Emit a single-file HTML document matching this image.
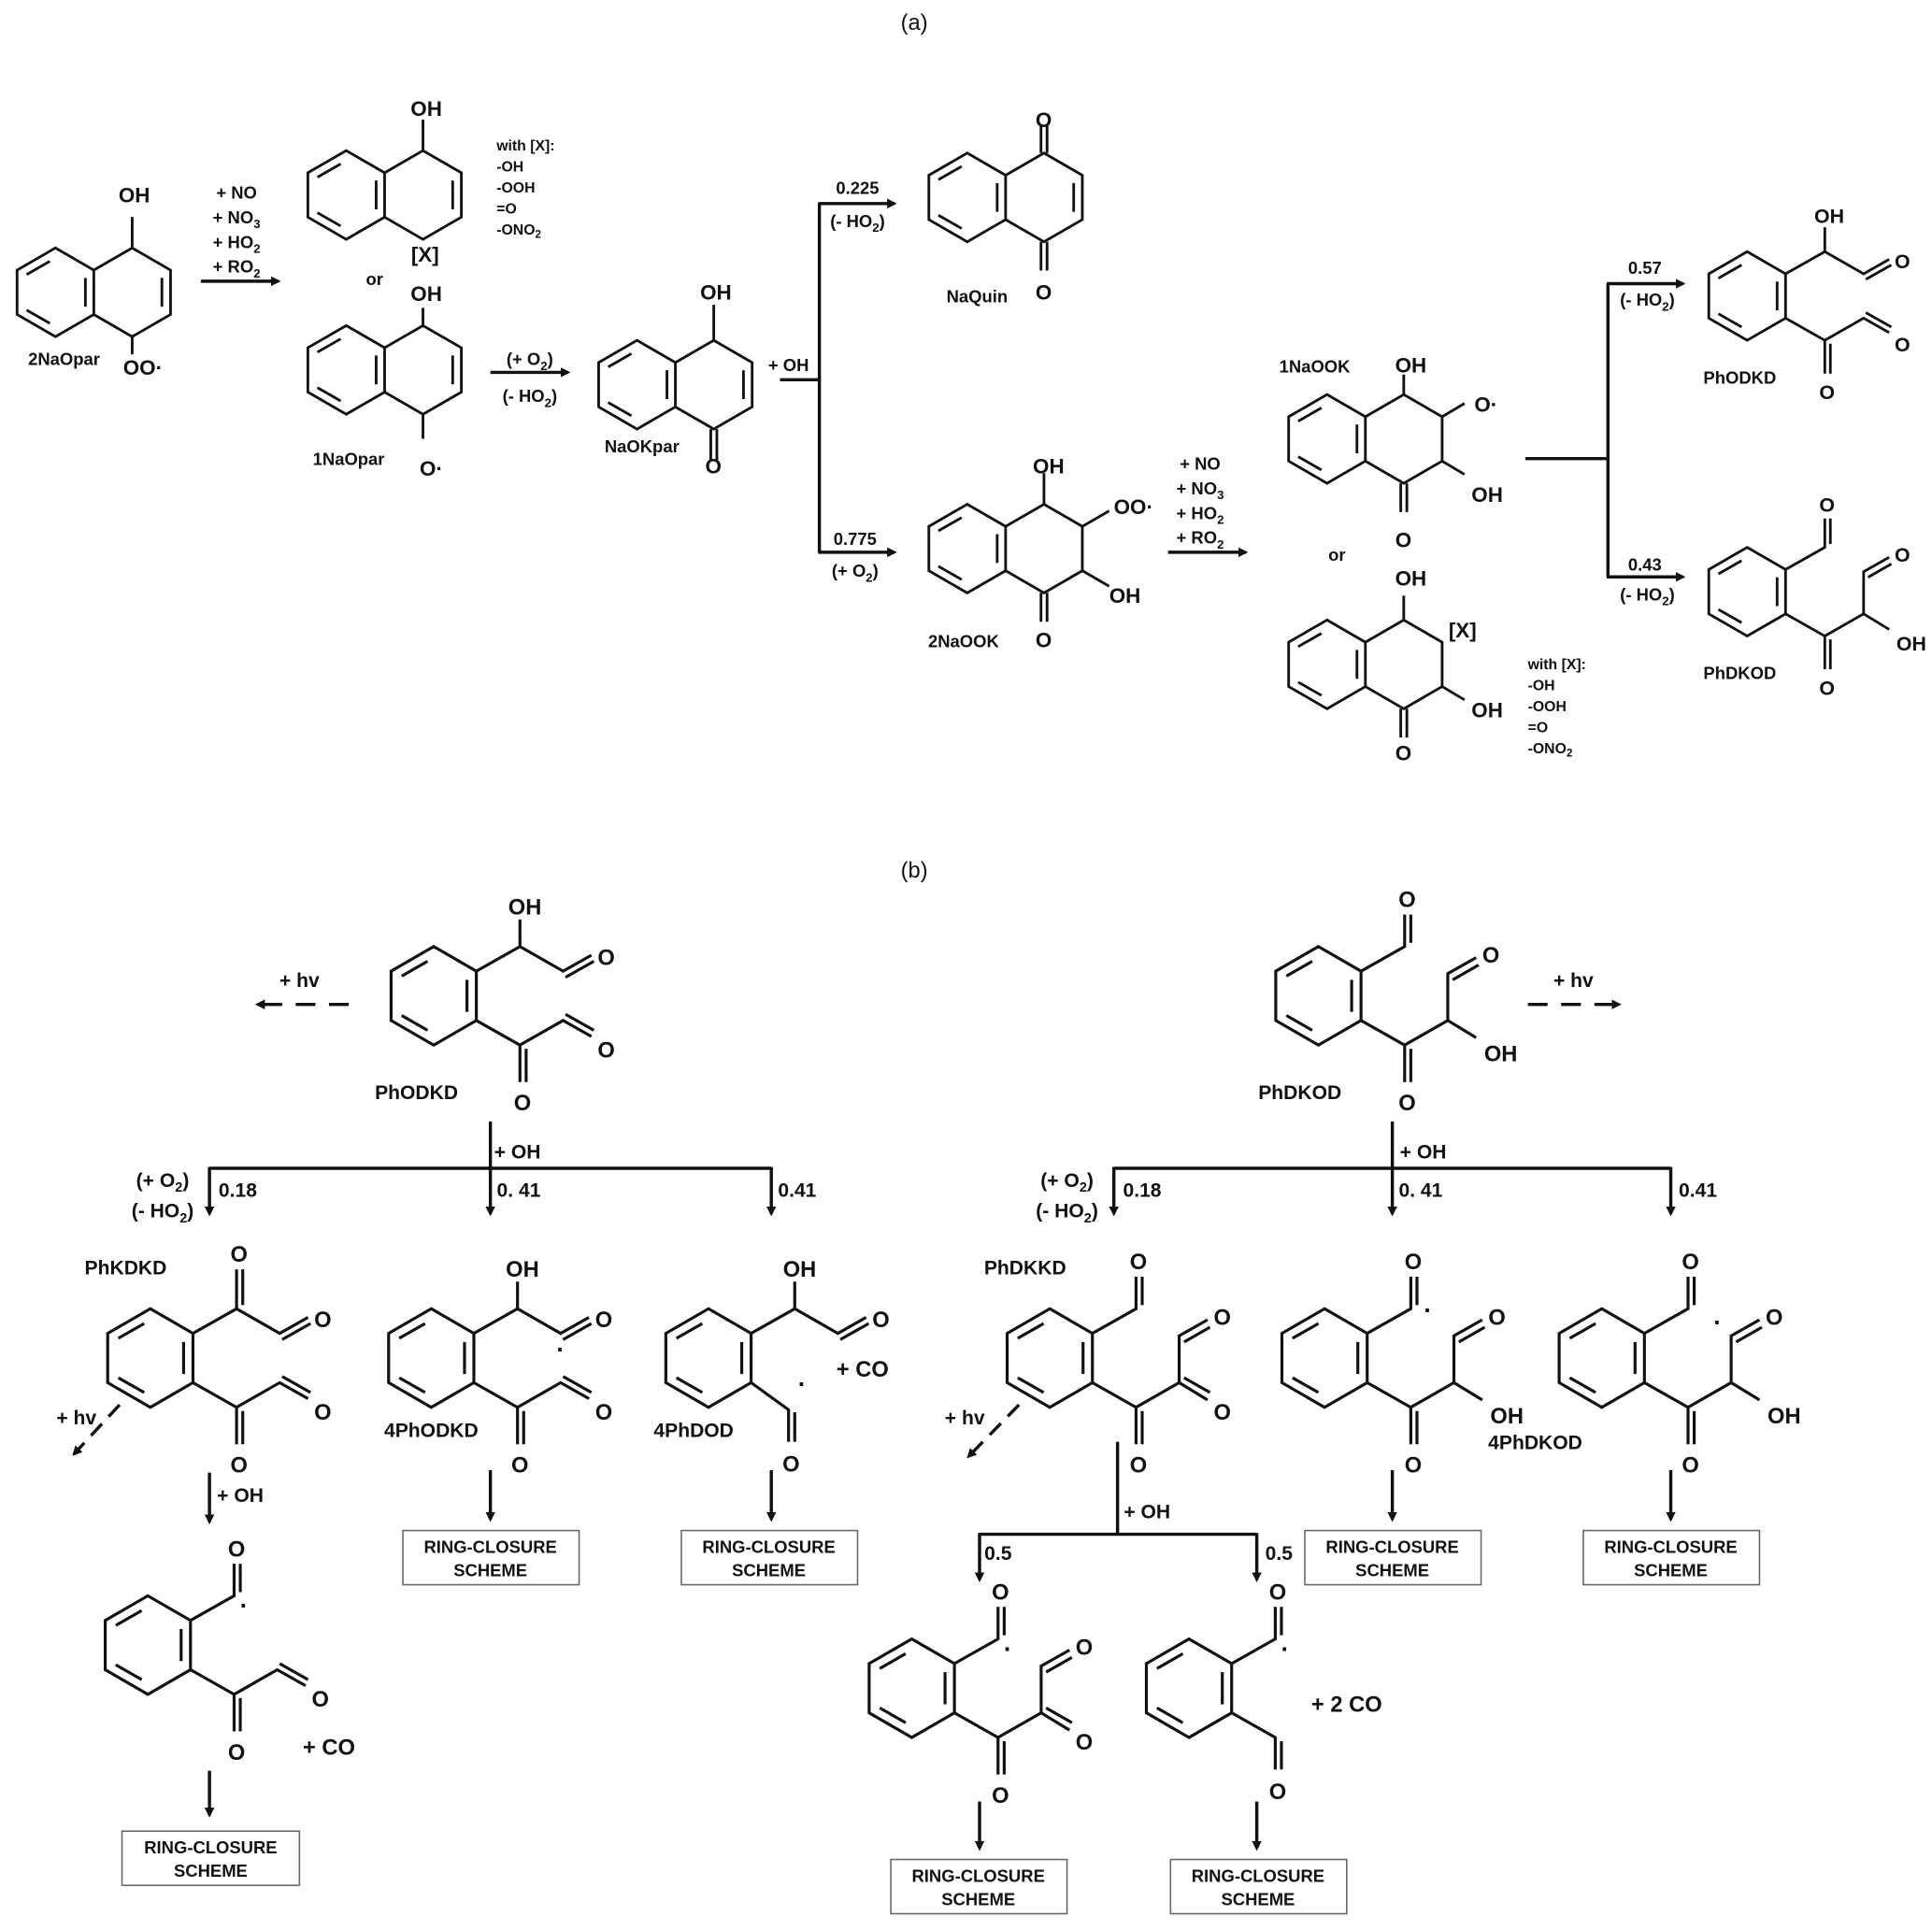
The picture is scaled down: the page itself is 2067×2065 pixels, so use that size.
<!DOCTYPE html>
<html><head><meta charset="utf-8"><style>
html,body{margin:0;padding:0;background:#fff}
svg{display:block}
text{font-family:"Liberation Sans",sans-serif;font-weight:bold;fill:#111;text-anchor:middle}
.b{stroke:#111;stroke-width:2.4;fill:none;stroke-linejoin:miter}
.ar{stroke:#111;stroke-width:2.6;fill:none}
.t{font-size:14px}
.s{font-size:17px}
.n{font-weight:normal;font-size:18px}
.bx{fill:#fff;stroke:#666;stroke-width:1.2}
</style></head><body>
<svg width="2067" height="2065" viewBox="0 0 1568 1566" xmlns="http://www.w3.org/2000/svg">
<defs>
<marker id="ah" markerWidth="8" markerHeight="8" refX="6" refY="4" orient="auto" markerUnits="userSpaceOnUse" viewBox="0 0 8 8"><path d="M0,0 L8,4 L0,8 z" fill="#111"/></marker>
<g id="bz"><path class="b" d="M0,-40 L34.6,-20 L34.6,20 L0,40 L-34.6,20 L-34.6,-20 Z M-26,-16 L-5,-28 M-5,28 L-26,16 M27,-13 L27,13"/></g>
<g id="nap"><use href="#bz"/><path class="b" d="M34.6,-20 L69.2,-40 L103.8,-20 L103.8,20 L69.2,40 L34.6,20"/></g>
<path id="dbr" class="b" d="M96,-13 L96,13"/>
<g id="Atop"><path class="b" d="M34.6,-20 L70,-40 L70,-62 M70,-40 L105,-20 L128,-33 M107,-15 L130,-28"/><text x="74" y="-66" font-size="18">OH</text><text x="140" y="-25" font-size="18">O</text></g>
<g id="Abot"><path class="b" d="M34.6,20 L70,40 L70,70 M75,43 L75,70 M70,40 L105,20 L128,33 M107,15 L130,28"/><text x="72" y="93" font-size="18">O</text><text x="140" y="50" font-size="18">O</text></g>
<g id="Ctop"><path class="b" d="M34.6,-20 L70,-40 L70,-72 M75,-43 L75,-72 M70,-40 L105,-20 L128,-33 M107,-15 L130,-28"/><text x="72" y="-78" font-size="18">O</text><text x="140" y="-25" font-size="18">O</text></g>
<g id="Btop"><path class="b" d="M34.6,-20 L70,-40 L70,-66 M75,-43 L75,-66"/><text x="72" y="-72" font-size="18">O</text></g>
<g id="Bbot"><path class="b" d="M34.6,20 L70,40 L70,70 M75,43 L75,70 M70,40 L105,20 L128,34 M105,20 L105,-18 L128,-31 M109,-13 L130,-25"/><text x="72" y="93" font-size="18">O</text><text x="148" y="53" font-size="18">OH</text><text x="140" y="-27" font-size="18">O</text></g>
<g id="Dbot"><path class="b" d="M34.6,20 L70,40 L70,70 M75,43 L75,70 M70,40 L105,20 L128,34 M109,16 L130,28 M105,20 L105,-18 L128,-31 M109,-13 L130,-25"/><text x="72" y="93" font-size="18">O</text><text x="140" y="50" font-size="18">O</text><text x="140" y="-27" font-size="18">O</text></g>
</defs>

<text x="742" y="24" class="n">(a)</text>

<g transform="translate(45,237) scale(0.9)"><use href="#nap"/><use href="#dbr"/><path class="b" d="M69.2,-40 L69.2,-68 M69.2,40 L69.2,56"/></g>
<text x="109" y="164" class="s">OH</text><text x="116" y="304" class="s">OO·</text><text x="52" y="296" class="t">2NaOpar</text>
<line class="ar" x1="163" y1="228" x2="226" y2="228" marker-end="url(#ah)"/>
<text x="192" y="161" class="t">+ NO</text><text x="192" y="181" class="t">+ NO<tspan font-size="10" dy="4">3</tspan></text><text x="192" y="201" class="t">+ HO<tspan font-size="10" dy="4">2</tspan></text><text x="192" y="221" class="t">+ RO<tspan font-size="10" dy="4">2</tspan></text>

<g transform="translate(281,158) scale(0.9)"><use href="#nap"/><use href="#dbr"/><path class="b" d="M69.2,-40 L69.2,-68"/></g>
<text x="346" y="94" class="s">OH</text><text x="345" y="212" class="s">[X]</text>
<text x="403" y="122" font-size="12" style="text-anchor:start">with [X]:</text><text x="403" y="139" font-size="12" style="text-anchor:start">-OH</text><text x="403" y="156" font-size="12" style="text-anchor:start">-OOH</text><text x="403" y="173" font-size="12" style="text-anchor:start">=O</text><text x="403" y="190" font-size="12" style="text-anchor:start">-ONO<tspan font-size="9" dy="3">2</tspan></text>
<text x="304" y="231" class="t">or</text>

<g transform="translate(281,300) scale(0.9)"><use href="#nap"/><use href="#dbr"/><path class="b" d="M69.2,-40 L69.2,-56 M69.2,40 L69.2,62"/></g>
<text x="346" y="244" class="s">OH</text><text x="350" y="386" class="s">O·</text><text x="283" y="377" class="t">1NaOpar</text>
<line class="ar" x1="398" y1="302" x2="461" y2="302" marker-end="url(#ah)"/>
<text x="430" y="296" class="t">(+ O<tspan font-size="10" dy="4">2</tspan><tspan dy="-4">)</tspan></text>
<text x="430" y="326" class="t">(- HO<tspan font-size="10" dy="4">2</tspan><tspan dy="-4">)</tspan></text>

<g transform="translate(517,312) scale(0.9)"><use href="#nap"/><use href="#dbr"/><path class="b" d="M69.2,-40 L69.2,-72 M66.5,40 L66.5,68 M72,40 L72,68"/></g>
<text x="581" y="243" class="s">OH</text><text x="579" y="384" class="s">O</text><text x="521" y="367" class="t">NaOKpar</text>
<text x="640" y="301" class="t">+ OH</text>
<path class="ar" d="M633,308 L665,308 M665,165 L665,448"/>
<line class="ar" x1="664" y1="165" x2="726" y2="165" marker-end="url(#ah)"/>
<line class="ar" x1="664" y1="448" x2="726" y2="448" marker-end="url(#ah)"/>
<text x="696" y="157" class="t">0.225</text><text x="696" y="184" class="t">(- HO<tspan font-size="10" dy="4">2</tspan><tspan dy="-4">)</tspan></text>
<text x="694" y="442" class="t">0.775</text><text x="694" y="468" class="t">(+ O<tspan font-size="10" dy="4">2</tspan><tspan dy="-4">)</tspan></text>

<g transform="translate(785,160) scale(0.9)"><use href="#nap"/><use href="#dbr"/><path class="b" d="M66.5,-40 L66.5,-66 M72,-40 L72,-66 M66.5,40 L66.5,66 M72,40 L72,66"/></g>
<text x="847" y="103" class="s">O</text><text x="847" y="243" class="s">O</text><text x="793" y="245" class="t">NaQuin</text>

<g transform="translate(785,445) scale(0.9)"><use href="#nap"/><path class="b" d="M69.2,-40 L69.2,-68 M103.8,-20 L128,-34 M103.8,20 L128,34 M66.5,40 L66.5,66 M72,40 L72,66"/></g>
<text x="851" y="384" class="s">OH</text><text x="920" y="417" class="s">OO·</text><text x="913" y="489" class="s">OH</text><text x="847" y="525" class="s">O</text><text x="782" y="525" class="t">2NaOOK</text>
<line class="ar" x1="948" y1="448" x2="1011" y2="448" marker-end="url(#ah)"/>
<text x="974" y="381" class="t">+ NO</text><text x="974" y="401" class="t">+ NO<tspan font-size="10" dy="4">3</tspan></text><text x="974" y="421" class="t">+ HO<tspan font-size="10" dy="4">2</tspan></text><text x="974" y="441" class="t">+ RO<tspan font-size="10" dy="4">2</tspan></text>

<g transform="translate(1077,356) scale(0.9)"><use href="#nap"/><path class="b" d="M69.2,-40 L69.2,-58 M103.8,-20 L124,-32 M103.8,20 L124,32 M66.5,40 L66.5,66 M72,40 L72,66"/></g>
<text x="1067" y="302" class="t">1NaOOK</text><text x="1145" y="302" class="s">OH</text><text x="1206" y="334" class="s">O·</text><text x="1207" y="407" class="s">OH</text><text x="1139" y="444" class="s">O</text>
<text x="1085" y="455" class="t">or</text>
<g transform="translate(1077,539) scale(0.9)"><use href="#nap"/><path class="b" d="M69.2,-40 L69.2,-62 M103.8,20 L124,32 M66.5,40 L66.5,66 M72,40 L72,66"/></g>
<text x="1145" y="475" class="s">OH</text><text x="1187" y="517" class="s">[X]</text><text x="1207" y="582" class="s">OH</text><text x="1139" y="617" class="s">O</text>
<text x="1240" y="543" font-size="12" style="text-anchor:start">with [X]:</text><text x="1240" y="560" font-size="12" style="text-anchor:start">-OH</text><text x="1240" y="577" font-size="12" style="text-anchor:start">-OOH</text><text x="1240" y="594" font-size="12" style="text-anchor:start">=O</text><text x="1240" y="611" font-size="12" style="text-anchor:start">-ONO<tspan font-size="9" dy="3">2</tspan></text>

<path class="ar" d="M1238,372 L1305,372 M1305,230 L1305,468"/>
<line class="ar" x1="1304" y1="230" x2="1366" y2="230" marker-end="url(#ah)"/>
<line class="ar" x1="1304" y1="468" x2="1366" y2="468" marker-end="url(#ah)"/>
<text x="1335" y="222" class="t">0.57</text><text x="1337" y="248" class="t">(- HO<tspan font-size="10" dy="4">2</tspan><tspan dy="-4">)</tspan></text>
<text x="1335" y="463" class="t">0.43</text><text x="1337" y="487" class="t">(- HO<tspan font-size="10" dy="4">2</tspan><tspan dy="-4">)</tspan></text>
<g transform="translate(1418,240) scale(0.9)"><use href="#bz"/><use href="#Atop"/><use href="#Abot"/></g>
<text x="1412" y="311" class="t">PhODKD</text>
<g transform="translate(1418,480) scale(0.9)"><use href="#bz"/><use href="#Btop"/><use href="#Bbot"/></g>
<text x="1412" y="551" class="t">PhDKOD</text>

<text x="742" y="712" class="n">(b)</text>

<g transform="translate(352,808)"><use href="#bz"/><use href="#Atop"/><use href="#Abot"/></g>
<text x="338" y="892" font-size="16">PhODKD</text>
<text x="243" y="801" font-size="16">+ hv</text>
<line class="ar" x1="283" y1="815" x2="209" y2="815" stroke-dasharray="16,11" marker-end="url(#ah)"/>

<g transform="translate(1070,808)"><use href="#bz"/><use href="#Btop"/><use href="#Bbot"/></g>
<text x="1055" y="892" font-size="16">PhDKOD</text>
<text x="1277" y="801" font-size="16">+ hv</text>
<line class="ar" x1="1240" y1="815" x2="1314" y2="815" stroke-dasharray="16,11" marker-end="url(#ah)"/>

<path class="ar" d="M398,910 L398,948 M170,948 L626,948 M1130,910 L1130,948 M904,948 L1356,948"/>
<g marker-end="url(#ah)">
<line class="ar" x1="170" y1="947" x2="170" y2="985"/><line class="ar" x1="398" y1="947" x2="398" y2="985"/><line class="ar" x1="626" y1="947" x2="626" y2="985"/>
<line class="ar" x1="904" y1="947" x2="904" y2="985"/><line class="ar" x1="1130" y1="947" x2="1130" y2="985"/><line class="ar" x1="1356" y1="947" x2="1356" y2="985"/>
</g>
<text x="420" y="940" font-size="16">+ OH</text><text x="193" y="971" font-size="16">0.18</text><text x="421" y="971" font-size="16">0. 41</text><text x="647" y="971" font-size="16">0.41</text>
<text x="132" y="963" font-size="16">(+ O<tspan font-size="11" dy="4">2</tspan><tspan dy="-4">)</tspan></text><text x="132" y="988" font-size="16">(- HO<tspan font-size="11" dy="4">2</tspan><tspan dy="-4">)</tspan></text>
<text x="1155" y="940" font-size="16">+ OH</text><text x="927" y="971" font-size="16">0.18</text><text x="1153" y="971" font-size="16">0. 41</text><text x="1378" y="971" font-size="16">0.41</text>
<text x="866" y="963" font-size="16">(+ O<tspan font-size="11" dy="4">2</tspan><tspan dy="-4">)</tspan></text><text x="866" y="988" font-size="16">(- HO<tspan font-size="11" dy="4">2</tspan><tspan dy="-4">)</tspan></text>

<g transform="translate(122,1102)"><use href="#bz"/><use href="#Ctop"/><use href="#Abot"/></g>
<text x="102" y="1034" font-size="16">PhKDKD</text>
<g transform="translate(350,1102)"><use href="#bz"/><use href="#Atop"/><use href="#Abot"/><text x="105" y="0" font-size="20">·</text></g>
<text x="350" y="1166" font-size="16">4PhODKD</text>
<g transform="translate(575,1102)"><use href="#bz"/><use href="#Atop"/><path class="b" d="M34.6,20 L65,42 L65,68 M70,44 L70,68"/><text x="67" y="92" font-size="18">O</text><text x="76" y="28" font-size="20">·</text></g>
<text x="563" y="1166" font-size="16">4PhDOD</text>
<text x="700" y="1117" font-size="18">+ CO</text>

<g transform="translate(852,1102)"><use href="#bz"/><use href="#Btop"/><use href="#Dbot"/></g>
<text x="832" y="1034" font-size="16">PhDKKD</text>
<g transform="translate(1075,1102)"><use href="#bz"/><use href="#Btop"/><use href="#Bbot"/><text x="84" y="-32" font-size="20">·</text></g>
<g transform="translate(1300,1102)"><use href="#bz"/><use href="#Btop"/><use href="#Bbot"/><text x="94" y="-22" font-size="20">·</text></g>
<text x="1246" y="1176" font-size="16">4PhDKOD</text>

<text x="62" y="1156" font-size="16">+ hv</text>
<line class="ar" x1="97" y1="1140" x2="60" y2="1180" stroke-dasharray="13,8" marker-end="url(#ah)"/>
<text x="783" y="1156" font-size="16">+ hv</text>
<line class="ar" x1="827" y1="1140" x2="786" y2="1182" stroke-dasharray="13,8" marker-end="url(#ah)"/>

<g marker-end="url(#ah)">
<line class="ar" x1="170" y1="1195" x2="170" y2="1235"/>
<line class="ar" x1="398" y1="1193" x2="398" y2="1233"/>
<line class="ar" x1="626" y1="1193" x2="626" y2="1233"/>
<line class="ar" x1="1130" y1="1193" x2="1130" y2="1233"/>
<line class="ar" x1="1356" y1="1193" x2="1356" y2="1233"/>
<line class="ar" x1="170" y1="1437" x2="170" y2="1473"/>
<line class="ar" x1="795" y1="1244" x2="795" y2="1282"/>
<line class="ar" x1="1020" y1="1244" x2="1020" y2="1282"/>
<line class="ar" x1="795" y1="1462" x2="795" y2="1500"/>
<line class="ar" x1="1020" y1="1462" x2="1020" y2="1500"/>
</g>
<text x="195" y="1219" font-size="16">+ OH</text>
<path class="ar" d="M907,1170 L907,1245 M795,1245 L1020,1245"/>
<text x="931" y="1232" font-size="16">+ OH</text><text x="810" y="1266" font-size="16">0.5</text><text x="1038" y="1266" font-size="16">0.5</text>

<rect class="bx" x="327" y="1242" width="143" height="44"/><text x="398" y="1260" font-size="14">RING-CLOSURE</text><text x="398" y="1279" font-size="14">SCHEME</text>
<rect class="bx" x="553" y="1242" width="143" height="44"/><text x="624" y="1260" font-size="14">RING-CLOSURE</text><text x="624" y="1279" font-size="14">SCHEME</text>
<rect class="bx" x="1059" y="1242" width="143" height="44"/><text x="1130" y="1260" font-size="14">RING-CLOSURE</text><text x="1130" y="1279" font-size="14">SCHEME</text>
<rect class="bx" x="1285" y="1242" width="143" height="44"/><text x="1356" y="1260" font-size="14">RING-CLOSURE</text><text x="1356" y="1279" font-size="14">SCHEME</text>
<rect class="bx" x="99" y="1486" width="144" height="44"/><text x="171" y="1504" font-size="14">RING-CLOSURE</text><text x="171" y="1523" font-size="14">SCHEME</text>
<rect class="bx" x="723" y="1509" width="143" height="44"/><text x="794" y="1527" font-size="14">RING-CLOSURE</text><text x="794" y="1546" font-size="14">SCHEME</text>
<rect class="bx" x="950" y="1509" width="143" height="44"/><text x="1021" y="1527" font-size="14">RING-CLOSURE</text><text x="1021" y="1546" font-size="14">SCHEME</text>

<g transform="translate(120,1335)"><use href="#bz"/><use href="#Btop"/><use href="#Abot"/><text x="78" y="-25" font-size="20">·</text></g>
<text x="267" y="1424" font-size="18">+ CO</text>
<g transform="translate(740,1370)"><use href="#bz"/><use href="#Btop"/><use href="#Dbot"/><text x="78" y="-25" font-size="20">·</text></g>
<g transform="translate(965,1370)"><use href="#bz"/><use href="#Btop"/><path class="b" d="M34.6,20 L70,40 L70,66 M75,43 L75,66"/><text x="72" y="90" font-size="18">O</text><text x="78" y="-25" font-size="20">·</text></g>
<text x="1093" y="1389" font-size="18">+ 2 CO</text>
</svg>
</body></html>
